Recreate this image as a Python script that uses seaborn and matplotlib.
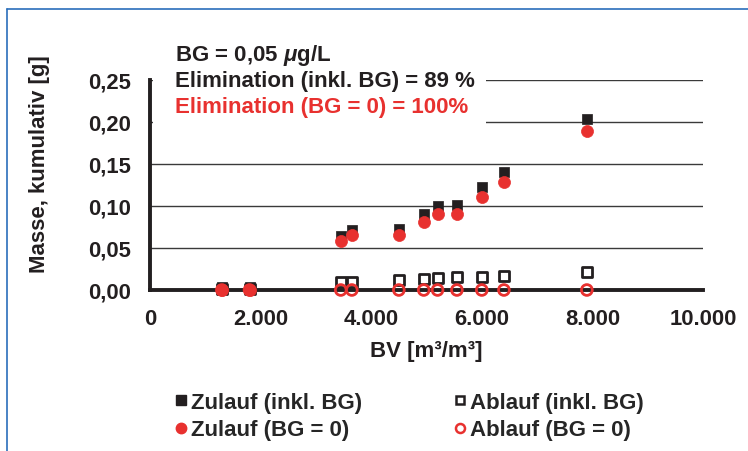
import matplotlib
matplotlib.use("Agg")
import matplotlib.pyplot as plt
import seaborn as sns
import pandas as pd
from matplotlib.lines import Line2D
from matplotlib.patches import Rectangle

# ---- data ----
bv = [1300, 1800, 3450, 3650, 4500, 4950, 5200, 5550, 6000, 6400, 7900]
zulauf_inkl = [0.003, 0.004, 0.064, 0.071, 0.073, 0.090, 0.100, 0.101, 0.123, 0.140, 0.204]
zulauf_bg0 = [0.0005, 0.0005, 0.058, 0.065, 0.065, 0.081, 0.090, 0.090, 0.111, 0.128, 0.189]
ablauf_inkl = [0.001, 0.001, 0.009, 0.009, 0.012, 0.013, 0.014, 0.015, 0.016, 0.017, 0.021]
ablauf_bg0 = [0.0, 0.0, 0.0, 0.0, 0.0, 0.0, 0.0, 0.0, 0.0, 0.0, 0.0]
series_names = ["Zulauf (inkl. BG)", "Zulauf (BG = 0)", "Ablauf (inkl. BG)", "Ablauf (BG = 0)"]
x_ticks = [0, 2000, 4000, 6000, 8000, 10000]
x_ticklabels = ["0", "2.000", "4.000", "6.000", "8.000", "10.000"]
y_ticks = [0.0, 0.05, 0.10, 0.15, 0.20, 0.25]
y_ticklabels = ["0,00", "0,05", "0,10", "0,15", "0,20", "0,25"]
annot_lines = ["BG = 0,05 $\\mathbf{\\mu}$g/L", "Elimination (inkl. BG) = 89 %", "Elimination (BG = 0) = 100%"]

sns.set_style("white")
plt.rcParams["font.family"] = ["Liberation Sans", "DejaVu Sans"]
plt.rcParams["font.weight"] = "bold"
plt.rcParams["mathtext.fontset"] = "custom"
plt.rcParams["mathtext.bf"] = "Liberation Sans:bold:italic"

BLACK = "#231f20"
RED = "#e8312f"
FS = 16
TFS = 15.8

fig = plt.figure(figsize=(7.48, 4.52), dpi=100)
ax = fig.add_axes([150/748, 1-291/452, 553/748, 210/452])

df = pd.DataFrame({"bv": bv, "zi": zulauf_inkl, "zb": zulauf_bg0, "ai": ablauf_inkl, "ab": ablauf_bg0})

sns.scatterplot(data=df, x="bv", y="ai", ax=ax, marker="s", s=55, facecolor="white",
                edgecolor=BLACK, linewidth=2.0, clip_on=False, zorder=4)
sns.scatterplot(data=df, x="bv", y="zi", ax=ax, marker="s", s=60, color=BLACK,
                edgecolor=BLACK, linewidth=0.5, clip_on=False, zorder=5)
sns.scatterplot(data=df, x="bv", y="zb", ax=ax, marker="o", s=75, color=RED,
                edgecolor=RED, linewidth=0.5, clip_on=False, zorder=6)
sns.scatterplot(data=df, x="bv", y="ab", ax=ax, marker="o", s=60, facecolor="none",
                edgecolor=RED, linewidth=2.0, clip_on=False, zorder=7)

ax.set_xlim(0, 10000)
ax.set_ylim(0, 0.25)
ax.set_xticks(x_ticks)
ax.set_xticklabels(x_ticklabels)
ax.set_yticks(y_ticks)
ax.set_yticklabels(y_ticklabels)
ax.tick_params(axis="both", labelsize=TFS, colors=BLACK, width=2.2)
ax.tick_params(axis="y", direction="inout", length=11, pad=8)
ax.tick_params(axis="x", direction="out", length=5, pad=8)
ax.grid(axis="y", color="#3a3a3a", linewidth=1.0, zorder=0)
ax.grid(axis="x", visible=False)
ax.set_axisbelow(True)
for side in ["top", "right"]:
    ax.spines[side].set_visible(False)
for side in ["left", "bottom"]:
    ax.spines[side].set_linewidth(2.8)
    ax.spines[side].set_color(BLACK)
    ax.spines[side].set_zorder(3)

ax.set_xlabel("BV [m³/m³]", fontsize=FS, fontweight="bold", color=BLACK)
ax.set_ylabel("Masse, kumulativ [g]", fontsize=FS, fontweight="bold", color=BLACK)
ax.xaxis.set_label_coords(0.5, -(341-291)/210)
ax.yaxis.set_label_coords(-(150-50)/553, (291-164)/210)

# white area behind annotation (covers gridlines)
ax.add_patch(Rectangle((60, 0.192), 6020, 0.1, facecolor="white", edgecolor="none",
                       zorder=1, clip_on=False))

cols = [BLACK, BLACK, RED]
ys = [56, 82, 107]
for t, c, yy in zip(annot_lines, cols, ys):
    fig.text(175/748, 1-yy/452, t, fontsize=FS, fontweight="bold", color=c, va="center", ha="left")

handles = [
    Line2D([], [], linestyle="none", marker="s", markersize=6.5, color=BLACK),
    Line2D([], [], linestyle="none", marker="o", markersize=7.5, color=RED),
    Line2D([], [], linestyle="none", marker="s", markersize=6, markerfacecolor="white",
           markeredgecolor=BLACK, markeredgewidth=1.8),
    Line2D([], [], linestyle="none", marker="o", markersize=6.5, markerfacecolor="white",
           markeredgecolor=RED, markeredgewidth=1.8),
]
fig.legend(handles, series_names, loc="upper left", bbox_to_anchor=(157/748, 1-375/452),
           ncol=2, frameon=False, handlelength=0.6, handletextpad=0.15,
           columnspacing=4.1, labelspacing=0.3, borderpad=0.3,
           prop={"weight": "bold", "size": FS})

# blue frame lines
fig.add_artist(Line2D([7/748, 1], [1-10/452, 1-10/452], color="#2a6ebb", linewidth=1.2,
                      transform=fig.transFigure))
fig.add_artist(Line2D([7/748, 7/748], [0, 1-10/452], color="#2a6ebb", linewidth=1.2,
                      transform=fig.transFigure))

fig.savefig("out.png", dpi=100)
